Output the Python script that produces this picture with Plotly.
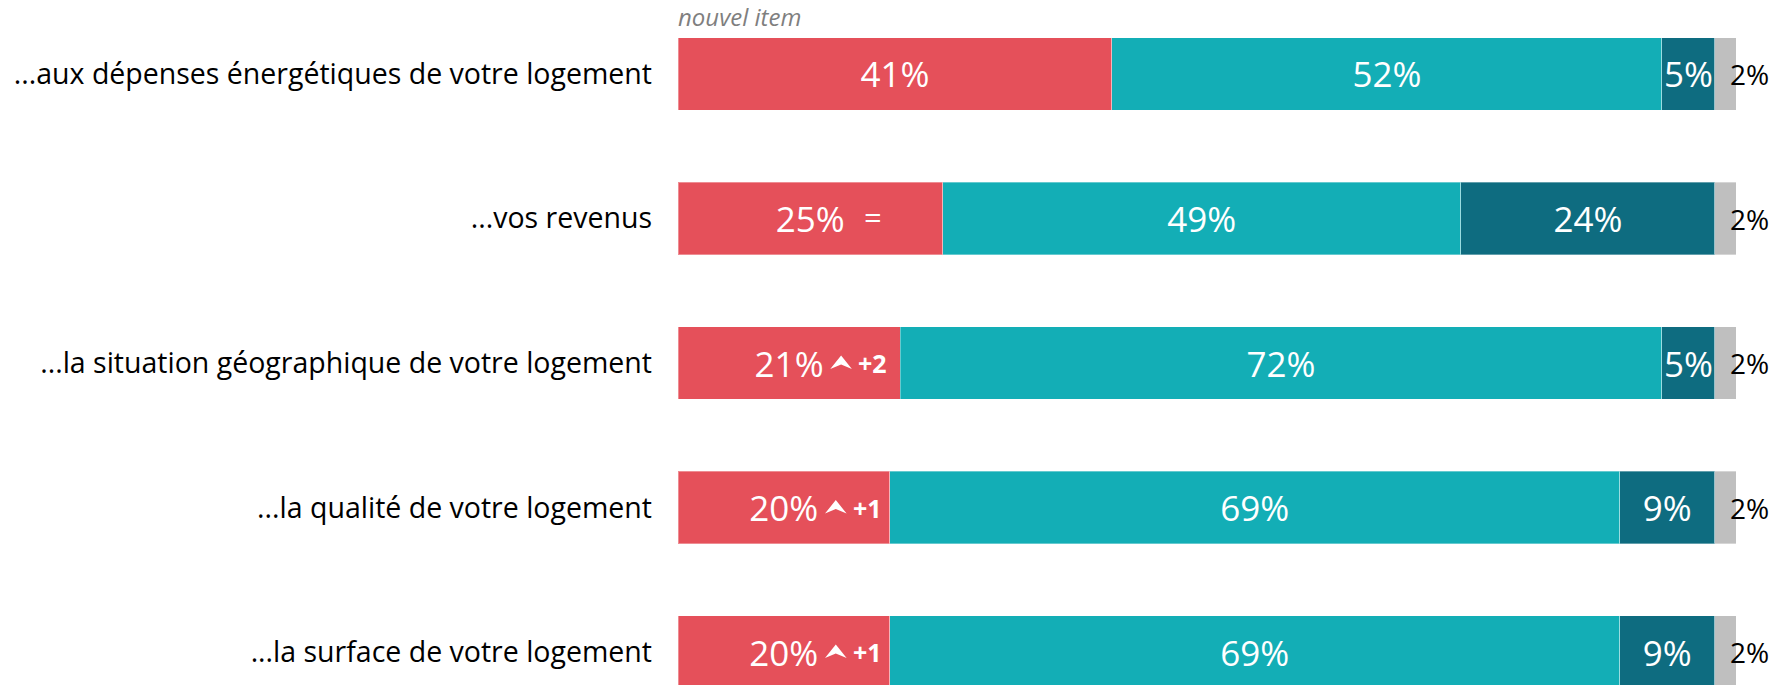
import plotly.graph_objects as go

categories = [
    "...aux dépenses énergétiques de votre logement",
    "...vos revenus",
    "...la situation géographique de votre logement",
    "...la qualité de votre logement",
    "...la surface de votre logement",
]
red_vals = [41, 25, 21, 20, 20]
teal_vals = [52, 49, 72, 69, 69]
dark_vals = [5, 24, 5, 9, 9]
gray_vals = [2, 2, 2, 2, 2]
deltas = ["", "=", "+2", "+1", "+1"]
series_names = ["Série 1", "Série 2", "Série 3", "Série 4"]
colors = ["#E5505A", "#13AEB6", "#0E6C80", "#BFBFBF"]

FONT = "Open Sans"

# up-arrow icon (pixel units, relative to the red label centre)
ARROW_DX = 52
ARROW_PATH = (f"M {ARROW_DX - 10.8},-6 L {ARROW_DX},7.5 L {ARROW_DX + 10.8},-6 "
              f"L {ARROW_DX},-1.5 Z")

fig = go.Figure()
for name, vals, col, show in zip(series_names, [red_vals, teal_vals, dark_vals, gray_vals], colors,
                                 [True, True, True, False]):
    fig.add_trace(go.Bar(
        y=categories, x=vals, name=name, orientation="h",
        marker=dict(color=col, line=dict(width=1, color="rgba(255,255,255,0.35)")),
        text=[f"{v}%" for v in vals] if show else None,
        textposition="inside" if show else "none",
        insidetextanchor="middle",
        constraintext="none",
        textangle=0,
        textfont=dict(family=FONT, size=35, color="white"),
        hoverinfo="skip",
    ))

annotations = []
shapes = []
# gray values outside to the right
for cat, g in zip(categories, gray_vals):
    annotations.append(dict(
        x=100, y=cat, xref="x", yref="y", text=f"{g}%", showarrow=False,
        xanchor="left", xshift=-8, font=dict(family=FONT, size=28, color="black"),
    ))

# evolution markers in the red segment
for cat, r, d in zip(categories, red_vals, deltas):
    if not d:
        continue
    if d.startswith("+"):
        shapes.append(dict(
            type="path", xref="x", yref="y", xsizemode="pixel", ysizemode="pixel",
            xanchor=r / 2, yanchor=cat, path=ARROW_PATH,
            fillcolor="white", line=dict(width=0), layer="above",
        ))
        annotations.append(dict(
            x=r / 2, y=cat, xref="x", yref="y", text=f"<b>{d}</b>", showarrow=False,
            xanchor="left", xshift=67, font=dict(family=FONT, size=25, color="white"),
        ))
    else:
        annotations.append(dict(
            x=r / 2, y=cat, xref="x", yref="y", text=d, showarrow=False,
            xanchor="center", xshift=63, yshift=2, font=dict(family=FONT, size=31, color="white"),
        ))

annotations.append(dict(
    x=0, y=categories[0], xref="x", yref="y", text="<i>nouvel item</i>", showarrow=False,
    xanchor="left", yanchor="bottom", yshift=39, xshift=-2,
    font=dict(family=FONT, size=24, color="#7F7F7F"),
))

fig.update_layout(
    barmode="stack",
    bargap=0.5,
    width=1775, height=685,
    margin=dict(l=678, r=39, t=0, b=0),
    plot_bgcolor="white", paper_bgcolor="white",
    showlegend=False,
    annotations=annotations,
    shapes=shapes,
    font=dict(family=FONT),
)
fig.update_xaxes(range=[0, 100], visible=False, showgrid=False)
fig.update_yaxes(
    range=[4.228, -0.512], showgrid=False, zeroline=False, showline=False, ticks="",
    ticklabelstandoff=25, tickfont=dict(family=FONT, size=28.5, color="black"),
)

fig.write_html("out.html", config={"displayModeBar": False},
               post_script="document.body.style.margin='0';")
